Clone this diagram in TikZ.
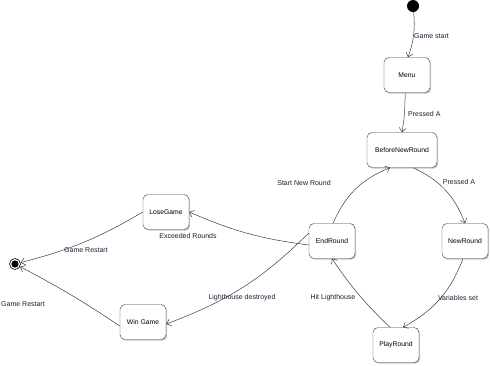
\documentclass[tikz,border=0pt]{standalone}
\usepackage{fontspec}
\setmainfont{Liberation Sans}
\usepackage{xcolor}
\usetikzlibrary{arrows.meta,shadows}

\definecolor{lbltext}{RGB}{25,30,50}
\definecolor{edgegray}{RGB}{60,60,60}

\begin{document}
\begin{tikzpicture}[
  x=1pt,y=-1pt,
  state/.style={draw=edgegray,rounded corners=5pt,minimum width=46pt,minimum height=35pt,fill=white,
    drop shadow={shadow xshift=1.2pt,shadow yshift=-1.2pt,fill=black!45},font=\fontsize{6.8}{8}\selectfont},
  lbl/.style={font=\fontsize{7}{8}\selectfont,text=lbltext,inner sep=0pt},
  arr/.style={-{Straight Barb[length=4pt,width=7pt]},edgegray,line width=0.5pt}
]
  \useasboundingbox (0,0) rectangle (490,365);

  \node[circle,fill=black,minimum size=12pt,inner sep=0pt] (start) at (413,6) {};
  \node[circle,draw=black,line width=0.6pt,minimum size=11pt,inner sep=0pt] (finish) at (15,264) {};
  \fill (finish) circle (3.6pt);

  \node[state] (menu) at (407,75) {Menu};
  \node[state,minimum width=70pt] (before) at (402,150) {BeforeNewRound};
  \node[state] (newround) at (465,241) {NewRound};
  \node[state] (endround) at (332,241) {EndRound};
  \node[state] (playround) at (396,345) {PlayRound};
  \node[state] (losegame) at (166,212) {LoseGame};
  \node[state] (wingame) at (143,322) {Win Game};

  % transitions
  \draw[arr] (start) to[bend left=12] ([xshift=1pt]menu.north);
  \draw[arr] ([xshift=-2pt]menu.south) to[bend left=5] (before.north);
  \draw[arr] ([xshift=11pt]before.south) to[bend left=22] (newround.north);
  \draw[arr] ([xshift=-2pt]newround.south) to[bend left=20] ([xshift=7pt]playround.north);
  \draw[arr] ([xshift=-6pt]playround.north) to[bend left=6] (endround.south);
  \draw[arr] ([xshift=1pt]endround.north) to[bend left=22] ([xshift=-12pt]before.south);
  \draw[arr] ([yshift=-4pt]endround.west) to[bend left=8] (losegame.east);
  \draw[arr] ([yshift=8pt]endround.west) to[bend left=12] ([yshift=-2pt]wingame.east);
  \draw[arr] (losegame.west) to[bend left=8] (finish);
  \draw[arr] ([yshift=-4pt]wingame.west) to[bend right=3] (finish);

  % labels
  \node[lbl,anchor=west] (l-start) at (414,36) {Game start};
  \node[lbl,anchor=west] (l-pressa) at (408,114) {Pressed A};
  \node[lbl] (l-newround) at (304,183) {Start New Round};
  \node[lbl] (l-pressb) at (459,182) {Pressed A};
  \node[lbl] (l-exceed) at (188,236) {Exceeded Rounds};
  \node[lbl] (l-restarta) at (86,250) {Game Restart};
  \node[lbl,anchor=west] (l-restartb) at (1,304) {Game Restart};
  \node[lbl] (l-destroy) at (242,298) {Lighthouse destroyed};
  \node[lbl] (l-hit) at (333,298) {Hit Lighthouse};
  \node[lbl] (l-vars) at (458,298) {Variables set};
\end{tikzpicture}
\end{document}
